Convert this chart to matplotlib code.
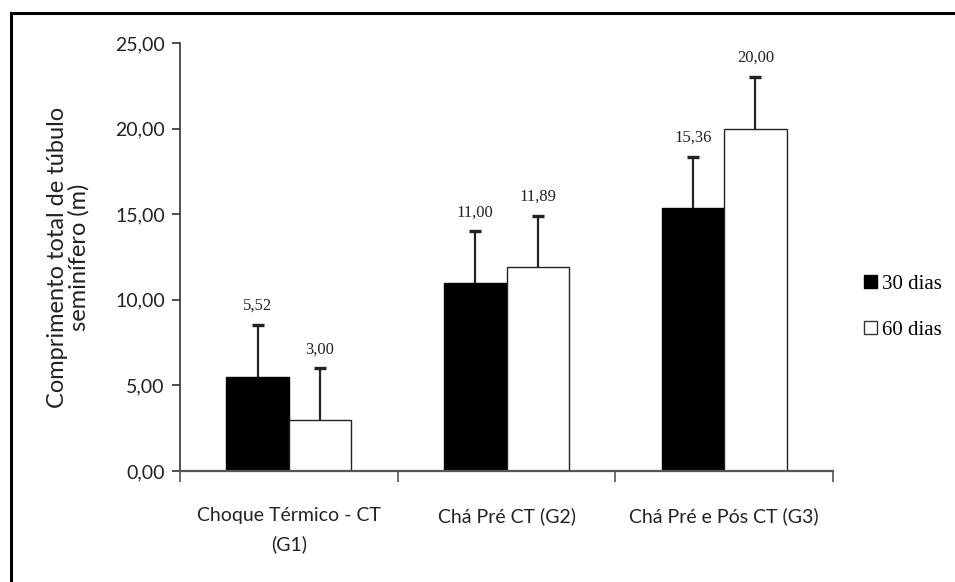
import numpy as np
import matplotlib.pyplot as plt
from matplotlib.patches import Patch
from matplotlib.lines import Line2D

# Comprimento total de túbulo seminífero (m), média e erro
grupos = ['Choque Térmico - CT\n(G1)', 'Chá Pré CT (G2)', 'Chá Pré e Pós CT (G3)']
dias_30 = [5.52, 11.00, 15.36]
dias_60 = [3.00, 11.89, 20.00]
erro_30 = [3.00, 3.00, 3.00]
erro_60 = [3.00, 3.00, 3.00]
series = ['30 dias', '60 dias']
yticks = [0, 5, 10, 15, 20, 25]

fig = plt.figure(figsize=(9.55, 5.82), dpi=100)
ax = fig.add_axes([0.1885, 0.1907, 0.6838, 0.7354])

x = np.arange(len(grupos))
w = 0.287

ax.bar(x - w / 2, dias_30, w, color='black', edgecolor='black', linewidth=1, zorder=2)
ax.bar(x + w / 2, dias_60, w, color='white', edgecolor='#222222', linewidth=1, zorder=2)

# barras de erro só para cima (esconde o traço inferior)
for pos, val, err in [(x - w / 2, dias_30, erro_30), (x + w / 2, dias_60, erro_60)]:
    eb = ax.errorbar(pos, val, yerr=[np.zeros(3), err], fmt='none',
                     ecolor='#222222', elinewidth=1.6, capsize=4, capthick=2.4, zorder=3)
    eb[1][0].set_visible(False)

for pos, val, err in [(x - w / 2, dias_30, erro_30), (x + w / 2, dias_60, erro_60)]:
    for xi, v, e in zip(pos, val, err):
        ax.annotate(f'{v:.2f}'.replace('.', ','), (xi, v + e), xytext=(0, 8),
                    textcoords='offset points', ha='center', va='bottom',
                    fontsize=12, family='Liberation Serif', color='#222222')

ax.set_xlim(-0.5, 2.5)
ax.set_ylim(0, 25)
ax.set_yticks(yticks)
ax.set_yticklabels([f'{t:.2f}'.replace('.', ',') for t in yticks],
                   fontsize=14, family='Lato', color='#222222')

# marcas do eixo x entre os grupos, rótulos no centro
ax.set_xticks([-0.5, 0.5, 1.5, 2.5])
ax.set_xticklabels([])
ax.set_xticks(x, minor=True)
ax.set_xticklabels(grupos, minor=True, fontsize=14, family='Lato',
                   color='#222222', linespacing=1.75)
ax.tick_params(axis='x', which='major', direction='out', length=8, width=1.2, color='#555555')
ax.tick_params(axis='x', which='minor', length=0, pad=26)
ax.tick_params(axis='y', direction='out', length=6, width=1.2, color='#333333', pad=5)

ax.spines['top'].set_visible(False)
ax.spines['right'].set_visible(False)
ax.spines['left'].set_color('#333333')
ax.spines['bottom'].set_color('#555555')
ax.spines['left'].set_linewidth(1.2)
ax.spines['bottom'].set_linewidth(1.6)

ax.set_ylabel('Comprimento total de túbulo\nseminífero (m)', fontsize=17,
              family='Lato', color='#222222', linespacing=1.05)
ax.yaxis.set_label_coords(-0.138, 0.5)

handles = [Patch(facecolor='black', edgecolor='black'),
           Patch(facecolor='white', edgecolor='#333333')]
fig.legend(handles, series, loc='upper left', bbox_to_anchor=(0.905, 0.528),
           frameon=False, prop={'family': 'Liberation Serif', 'size': 15},
           handlelength=0.6, handleheight=0.6, handletextpad=0.25,
           labelspacing=1.3, borderpad=0, borderaxespad=0)

# moldura superior e esquerda
fig.add_artist(Line2D([11 / 955, 1], [1 - 13 / 582, 1 - 13 / 582], color='black', linewidth=2.2))
fig.add_artist(Line2D([11 / 955, 11 / 955], [0, 1 - 13 / 582], color='black', linewidth=2.2))

fig.savefig('out.png', dpi=100)
